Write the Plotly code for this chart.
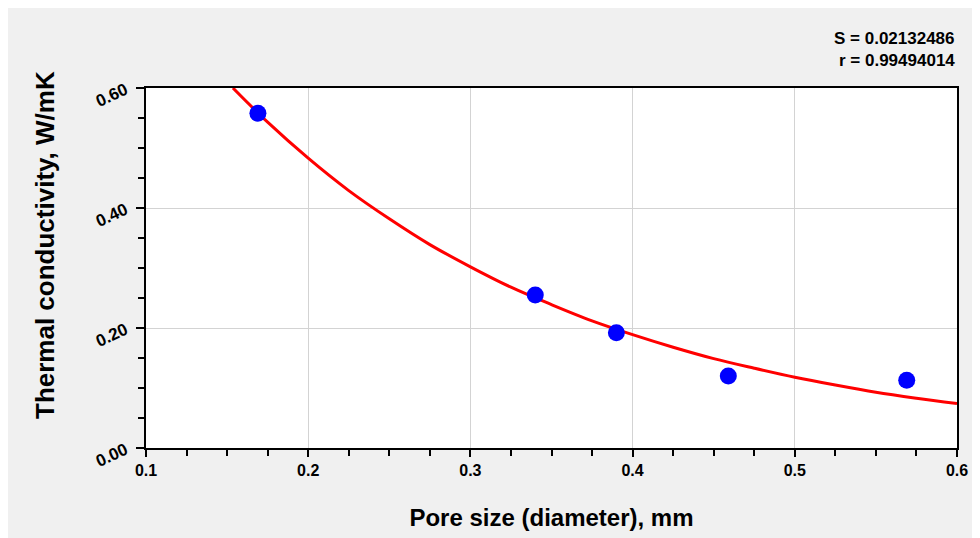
import plotly.graph_objects as go

# Measured data points
pore_size = [0.169, 0.340, 0.390, 0.459, 0.569]
conductivity = [0.558, 0.255, 0.192, 0.120, 0.113]

# Fitted curve
fit_x = [0.1536, 0.175, 0.2, 0.225, 0.25, 0.275, 0.3, 0.325, 0.35, 0.375,
         0.4, 0.425, 0.45, 0.475, 0.5, 0.525, 0.55, 0.575, 0.6]
fit_y = [0.600, 0.543, 0.483, 0.429, 0.382, 0.339, 0.302, 0.268, 0.239, 0.212,
         0.189, 0.168, 0.149, 0.133, 0.118, 0.105, 0.093, 0.083, 0.074]

stats_text = ["S = 0.02132486", "r = 0.99494014"]

x_title = "Pore size (diameter), mm"
y_title = "Thermal conductivity, W/mK"

FONT = "Liberation Sans, Arial, sans-serif"

fig = go.Figure()
fig.add_trace(go.Scatter(x=fit_x, y=fit_y, mode="lines",
                         line=dict(color="#ff0000", width=3, shape="spline"),
                         showlegend=False, cliponaxis=True))
fig.add_trace(go.Scatter(x=pore_size, y=conductivity, mode="markers",
                         marker=dict(color="#0000ff", size=17, line=dict(width=0)),
                         showlegend=False))

L, R, T, B = 138, 31, 80, 98
W, H = 980, 538
pw, ph = W - L - R, H - T - B

def px(xp):
    return (xp - L) / pw

def py(yp):
    return (H - B - yp) / ph

annotations = [
    dict(xref="paper", yref="paper", x=1, y=py(30), text="<b>%s</b>" % stats_text[0],
         showarrow=False, xanchor="right", yanchor="middle",
         font=dict(family=FONT, size=17, color="#000000")),
    dict(xref="paper", yref="paper", x=1, y=py(52), text="<b>%s</b>" % stats_text[1],
         showarrow=False, xanchor="right", yanchor="middle",
         font=dict(family=FONT, size=17, color="#000000")),
    dict(xref="paper", yref="paper", x=px(37), y=py(237), text="<b>%s</b>" % y_title,
         textangle=-90, showarrow=False, xanchor="center", yanchor="middle",
         font=dict(family=FONT, size=26, color="#000000")),
]

fig.update_layout(
    width=W, height=H,
    margin=dict(l=L, r=R, t=T, b=B, pad=0),
    paper_bgcolor="#f0f0f0",
    plot_bgcolor="#ffffff",
    annotations=annotations,
    font=dict(family=FONT, color="#000000"),
)

fig.update_xaxes(
    range=[0.1, 0.6], tickmode="linear", tick0=0.1, dtick=0.1, tickformat=".1f",
    ticks="outside", ticklen=7, tickwidth=1.5, tickcolor="#000000",
    showline=True, linecolor="#000000", linewidth=2, mirror=True,
    showgrid=True, gridcolor="#d3d3d3", gridwidth=1, zeroline=False,
    tickfont=dict(family=FONT, size=16, color="#000000", weight="bold"),
    minor=dict(dtick=0.025, tick0=0.1, ticks="outside", ticklen=6, tickwidth=1.5,
               tickcolor="#000000", showgrid=False),
    title=dict(text="<b>%s</b>" % x_title, font=dict(family=FONT, size=24), standoff=31),
)

fig.update_yaxes(
    range=[0, 0.6], tickmode="linear", tick0=0, dtick=0.2, tickformat=".2f",
    ticks="outside", ticklen=8, tickwidth=1.5, tickcolor="#000000",
    showline=True, linecolor="#000000", linewidth=2, mirror=True,
    showgrid=True, gridcolor="#d3d3d3", gridwidth=1, zeroline=False,
    tickangle=-25, ticklabelstandoff=7,
    tickfont=dict(family=FONT, size=17, color="#000000", weight="bold"),
    minor=dict(dtick=0.05, tick0=0, ticks="outside", ticklen=6, tickwidth=1.5,
               tickcolor="#000000", showgrid=False),
)

fig.write_html("out.html")
